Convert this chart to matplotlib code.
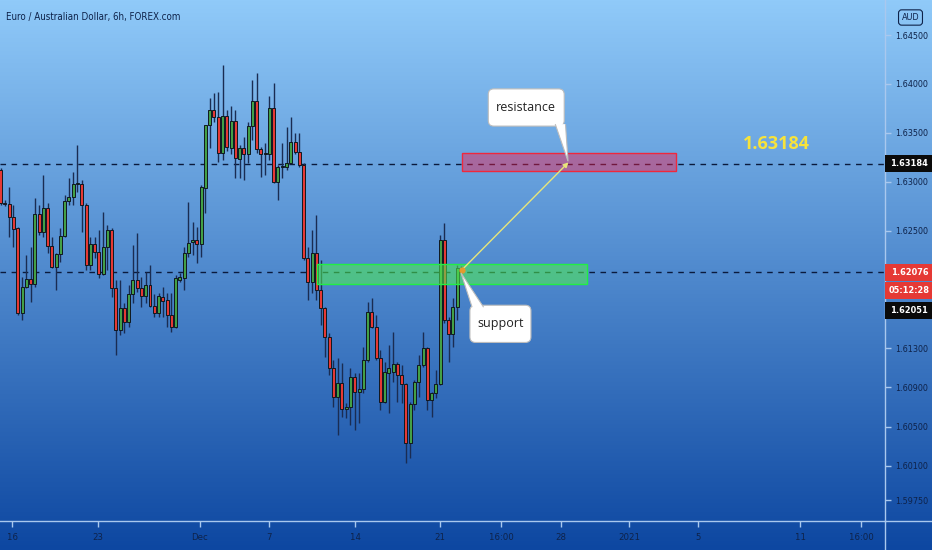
import numpy as np
import matplotlib
matplotlib.use("Agg")
import matplotlib.pyplot as plt
import matplotlib.transforms as mtransforms
from matplotlib.patches import Rectangle, FancyBboxPatch, Polygon
from matplotlib.lines import Line2D

plt.rcParams["font.family"] = ["DejaVu Sans"]
plt.rcParams["font.stretch"] = "condensed"

title = "Euro / Australian Dollar, 6h, FOREX.com"

# 6h candles, oldest first
opens = [1.6312, 1.6278, 1.6277, 1.6264, 1.6253, 1.6166, 1.6193, 1.6201, 1.6196, 1.6267,
         1.6249, 1.6273, 1.6235, 1.6213, 1.6226, 1.6245, 1.6280, 1.6285, 1.6298, 1.6298,
         1.6276, 1.6215, 1.6237, 1.6228, 1.6206, 1.6233, 1.6251, 1.6192, 1.6149, 1.6171,
         1.6157, 1.6185, 1.6200, 1.6192, 1.6183, 1.6195, 1.6173, 1.6166, 1.6182, 1.6179,
         1.6164, 1.6152, 1.6200, 1.6202, 1.6227, 1.6239, 1.6241, 1.6237, 1.6294, 1.6358,
         1.6373, 1.6366, 1.6330, 1.6367, 1.6335, 1.6362, 1.6323, 1.6335, 1.6329, 1.6357,
         1.6383, 1.6334, 1.6329, 1.6329, 1.6375, 1.6300, 1.6315, 1.6315, 1.6319, 1.6341,
         1.6331, 1.6317, 1.6222, 1.6198, 1.6227, 1.6190, 1.6171, 1.6142, 1.6110, 1.6080,
         1.6095, 1.6068, 1.6070, 1.6101, 1.6085, 1.6088, 1.6118, 1.6167, 1.6152, 1.6120,
         1.6075, 1.6105, 1.6106, 1.6114, 1.6103, 1.6094, 1.6033, 1.6073, 1.6096, 1.6113,
         1.6130, 1.6077, 1.6084, 1.6094, 1.6241, 1.6159, 1.6145, 1.6172, 1.6210]
closes = [1.6278, 1.6277, 1.6264, 1.6252, 1.6166, 1.6193, 1.6201, 1.6196, 1.6267, 1.6249,
          1.6273, 1.6235, 1.6213, 1.6226, 1.6245, 1.6280, 1.6285, 1.6298, 1.6299, 1.6276,
          1.6215, 1.6237, 1.6228, 1.6206, 1.6233, 1.6251, 1.6192, 1.6149, 1.6171, 1.6157,
          1.6185, 1.6200, 1.6192, 1.6183, 1.6195, 1.6173, 1.6166, 1.6183, 1.6178, 1.6164,
          1.6152, 1.6202, 1.6203, 1.6227, 1.6238, 1.6241, 1.6237, 1.6295, 1.6358, 1.6373,
          1.6366, 1.6330, 1.6367, 1.6336, 1.6362, 1.6324, 1.6335, 1.6329, 1.6357, 1.6383,
          1.6334, 1.6329, 1.6330, 1.6375, 1.6300, 1.6315, 1.6316, 1.6319, 1.6341, 1.6331,
          1.6317, 1.6222, 1.6198, 1.6227, 1.6190, 1.6171, 1.6142, 1.6110, 1.6080, 1.6095,
          1.6068, 1.6070, 1.6101, 1.6085, 1.6088, 1.6118, 1.6167, 1.6152, 1.6120, 1.6075,
          1.6106, 1.6110, 1.6114, 1.6103, 1.6094, 1.6033, 1.6073, 1.6096, 1.6113, 1.6130,
          1.6077, 1.6084, 1.6094, 1.6241, 1.6159, 1.6145, 1.6172, 1.6212, 1.62076]
highs = [1.6314, 1.6282, 1.6295, 1.6276, 1.6254, 1.6203, 1.6225, 1.6234, 1.6284, 1.6276,
         1.6307, 1.6278, 1.6244, 1.6227, 1.6253, 1.6287, 1.6304, 1.6310, 1.6338, 1.6302,
         1.6278, 1.6244, 1.6244, 1.6251, 1.6269, 1.6256, 1.6253, 1.6200, 1.6200, 1.6176,
         1.6195, 1.6236, 1.6248, 1.6203, 1.6208, 1.6215, 1.6185, 1.6187, 1.6193, 1.6187,
         1.6187, 1.6205, 1.6207, 1.6234, 1.6279, 1.6259, 1.6254, 1.6297, 1.6358, 1.6386,
         1.6391, 1.6392, 1.6419, 1.6373, 1.6378, 1.6373, 1.6338, 1.6346, 1.6361, 1.6404,
         1.6411, 1.6336, 1.6340, 1.6388, 1.6401, 1.6317, 1.6340, 1.6356, 1.6366, 1.6350,
         1.6350, 1.6319, 1.6234, 1.6251, 1.6266, 1.6220, 1.6172, 1.6146, 1.6118, 1.6120,
         1.6115, 1.6074, 1.6110, 1.6105, 1.6105, 1.6131, 1.6177, 1.6181, 1.6164, 1.6128,
         1.6116, 1.6133, 1.6147, 1.6116, 1.6113, 1.6095, 1.6075, 1.6098, 1.6123, 1.6147,
         1.6131, 1.6085, 1.6108, 1.6246, 1.6258, 1.6162, 1.6181, 1.6215, 1.6214]
lows = [1.6276, 1.6275, 1.6244, 1.6234, 1.6164, 1.6159, 1.6192, 1.6177, 1.6193, 1.6246,
        1.6244, 1.6227, 1.6212, 1.6190, 1.6218, 1.6244, 1.6276, 1.6276, 1.6290, 1.6249,
        1.6210, 1.6210, 1.6222, 1.6202, 1.6205, 1.6210, 1.6182, 1.6123, 1.6144, 1.6146,
        1.6152, 1.6176, 1.6188, 1.6172, 1.6176, 1.6172, 1.6162, 1.6162, 1.6162, 1.6152,
        1.6147, 1.6151, 1.6198, 1.6190, 1.6223, 1.6225, 1.6217, 1.6223, 1.6268, 1.6335,
        1.6361, 1.6320, 1.6322, 1.6332, 1.6328, 1.6304, 1.6304, 1.6302, 1.6319, 1.6343,
        1.6330, 1.6305, 1.6307, 1.6322, 1.6299, 1.6282, 1.6304, 1.6312, 1.6319, 1.6328,
        1.6315, 1.6220, 1.6179, 1.6187, 1.6179, 1.6154, 1.6121, 1.6103, 1.6070, 1.6041,
        1.6060, 1.6059, 1.6052, 1.6047, 1.6054, 1.6084, 1.6116, 1.6151, 1.6118, 1.6067,
        1.6074, 1.6064, 1.6096, 1.6075, 1.6074, 1.6013, 1.6018, 1.6067, 1.6080, 1.6111,
        1.6067, 1.6060, 1.6079, 1.6093, 1.6156, 1.6116, 1.6131, 1.6159, 1.6205]

date_ticks = [2.65, 22.8, 46.7, 62.9, 83.1, 103.0, 117.3, 131.4, 147.3, 163.5, 187.4, 201.7]
date_labels = ["16", "23", "Dec", "7", "14", "21", "16:00", "28", "2021", "5", "11", "16:00"]
price_ticks = [1.645, 1.640, 1.635, 1.630, 1.625, 1.613, 1.609, 1.605, 1.601, 1.5975]

resistance_level = 1.63184
last_price = 1.62076
bid_price = 1.62051
countdown = "05:12:28"

support_zone = (74.1, 137.4, 1.6196, 1.6216)
resistance_zone = (108.1, 158.3, 1.6311, 1.6330)
trend_start = (108.1, 1.6210)
trend_end = (133.1, 1.6320)

GREEN = "#43a047"
RED = "#e53935"
NAVY = "#0e2249"
AXIS_LINE = "#a9c8ee"

fig = plt.figure(figsize=(9.32, 5.5), dpi=100)

# gradient background
bg = fig.add_axes([0, 0, 1, 1], zorder=-5)
top = np.array([144, 202, 249]) / 255
bottom = np.array([13, 71, 161]) / 255
t = np.linspace(0, 1, 550)[:, None, None]
grad = top * (1 - t) + bottom * t
bg.imshow(grad, aspect="auto", extent=[0, 1, 0, 1])
bg.axis("off")

ax = fig.add_axes([0, 29 / 550, 885 / 932, 521 / 550])
ax.patch.set_alpha(0)

o = np.array(opens)
c = np.array(closes)
h = np.array(highs)
l = np.array(lows)
idx = np.arange(len(o))
colors = np.where(c >= o, GREEN, RED)

ax.vlines(idx, l, h, color="#1a2c52", lw=1, zorder=2)
ax.bar(idx, np.abs(c - o), bottom=np.minimum(o, c), width=0.7, color=colors,
       edgecolor="#101820", linewidth=0.7, zorder=3)

ax.set_xlim(-0.164, 207.3)
ax.set_ylim(1.59536, 1.64858)

# horizontal levels
for lvl in [resistance_level, last_price]:
    ax.axhline(lvl, color="#0b1a3c", lw=1, ls=(0, (4, 4)), zorder=1)

# zones
sw = support_zone[1] - support_zone[0]
sh = support_zone[3] - support_zone[2]
ax.add_patch(Rectangle((support_zone[0], support_zone[2]), sw, sh, facecolor="#50f050",
                       alpha=0.55, edgecolor="none", zorder=4))
ax.add_patch(Rectangle((support_zone[0], support_zone[2]), sw, sh, facecolor="none",
                       edgecolor="#22ee44", lw=1, zorder=4))
rw = resistance_zone[1] - resistance_zone[0]
rh = resistance_zone[3] - resistance_zone[2]
ax.add_patch(Rectangle((resistance_zone[0], resistance_zone[2]), rw, rh, facecolor="#ff1744",
                       alpha=0.42, edgecolor="none", zorder=4))
ax.add_patch(Rectangle((resistance_zone[0], resistance_zone[2]), rw, rh, facecolor="none",
                       edgecolor="#f0283c", lw=1, zorder=4))

# trend line
ax.annotate("", xy=trend_end, xytext=trend_start,
            arrowprops=dict(arrowstyle="-|>", color="#e8e67a", lw=1, mutation_scale=7,
                            shrinkA=0, shrinkB=0), zorder=5)
ax.plot(*trend_start, "o", ms=3.5, color="#e39b2d", zorder=6)

ax.text(181.8, 1.6339, "1.63184", color="#f7e33b", fontsize=13, fontweight="bold",
        family="Open Sans", stretch="normal", ha="center", va="center", zorder=6)

# callouts
aspect = 4.265 / 9789


def callout(x0, x1, y0, y1, tail, text):
    ax.add_patch(FancyBboxPatch((x0, y0), x1 - x0, y1 - y0,
                                boxstyle="round,pad=0,rounding_size=1.3",
                                mutation_aspect=aspect, facecolor="white",
                                edgecolor="#bdbdbd", lw=0.8, zorder=7))
    ax.add_patch(Polygon(tail, closed=False, facecolor="white", edgecolor="#bdbdbd",
                         lw=0.8, zorder=8))
    ax.text((x0 + x1) / 2, (y0 + y1) / 2, text, family="Open Sans", stretch="normal",
            fontsize=9, color="#222222", ha="center", va="center", zorder=9)


callout(114.3, 132.1, 1.6357, 1.6395,
        [(130.0, 1.6359), (133.0, 1.6321), (132.4, 1.6359)], "resistance")
callout(110.0, 124.3, 1.6136, 1.6174,
        [(110.5, 1.6172), (107.9, 1.6207), (113.2, 1.6172)], "support")

# axes styling
for s in ["top", "left"]:
    ax.spines[s].set_visible(False)
for s in ["right", "bottom"]:
    ax.spines[s].set_color(AXIS_LINE)
    ax.spines[s].set_linewidth(1)
fig.add_artist(Line2D([885 / 932, 885 / 932], [0, 29 / 550], color=AXIS_LINE, lw=1))
fig.add_artist(Line2D([885 / 932, 1], [29 / 550, 29 / 550], color=AXIS_LINE, lw=1))

ax.yaxis.tick_right()
ax.set_yticks(price_ticks, [f"{p:.5f}" for p in price_ticks])
ax.tick_params(axis="y", length=4, width=1, color=AXIS_LINE, labelsize=6.5,
               labelcolor=NAVY, pad=3)
ax.set_xticks(date_ticks, date_labels)
ax.tick_params(axis="x", length=4, width=1, color=AXIS_LINE, labelsize=6.8,
               labelcolor=NAVY, pad=5)

ax.text(0.007, 0.967, title, transform=ax.transAxes, fontsize=7, color=NAVY,
        ha="left", va="center")

fig.text(910.5 / 932, 1 - 17.5 / 550, "AUD", fontsize=6.5, color=NAVY, ha="center", va="center",
         bbox=dict(boxstyle="round,pad=0.35", facecolor="none", edgecolor=NAVY, lw=0.8))

# price tags on the scale
blend = mtransforms.blended_transform_factory(ax.transAxes, ax.transData)
tag_w = 47 / 885


def price_tag(price, text, face, dy=0):
    tr = mtransforms.offset_copy(blend, fig=fig, y=-dy, units="dots")
    ax.add_patch(Rectangle((1.0, price - 0.00087), tag_w, 0.00174, transform=tr,
                           facecolor=face, edgecolor="none", clip_on=False, zorder=10))
    ax.text(1.0 + tag_w * 0.52, price, text, transform=tr, fontsize=6.6, fontweight="bold",
            color="white", ha="center", va="center", clip_on=False, zorder=11)


price_tag(resistance_level, f"{resistance_level:.5f}", "#0a0a0a")
price_tag(last_price, f"{last_price:.5f}", RED)
price_tag(last_price, countdown, RED, dy=18)
price_tag(last_price, f"{bid_price:.5f}", "#0a0a0a", dy=38.5)

fig.savefig("out.png", dpi=100)
